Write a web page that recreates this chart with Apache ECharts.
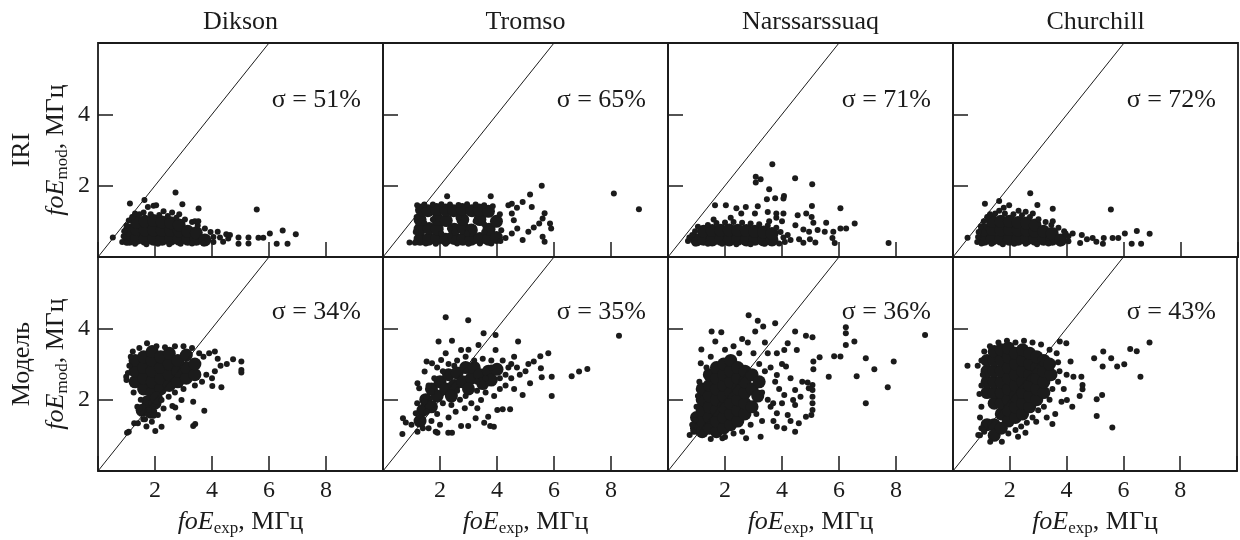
<!DOCTYPE html>
<html>
<head>
<meta charset="utf-8">
<title>foE: IRI / Модель</title>
<script src="https://cdn.jsdelivr.net/npm/echarts@6/dist/echarts.min.js"></script>
<style>
	html, body { margin: 0; padding: 0; background: #fff; }
	#chart { width: 1240px; height: 540px; }
</style>
</head>
<body>
<div id="chart"></div>
<script>
var stations = ['Dikson', 'Tromso', 'Narssarssuaq', 'Churchill'];
var rowNames = ['IRI', 'Модель'];
var sigmaIri = [51, 65, 71, 72];
var sigmaModel = [34, 35, 36, 43];
var xTickLabels = [2, 4, 6, 8];
var yTickLabels = [2, 4];
var identityLine = [0, 6];

// IRI row: dense part of each cloud (drawn with bigger dots) and single points
var iriDiksonCore = [[1.1,0.5],[1.1,0.75],[1.35,0.52],[1.35,0.78],[1.35,0.98],[1.65,0.5],[1.65,0.76],[1.65,1.0],[1.95,0.5],[1.95,0.76],[1.95,1.02],[2.25,0.5],[2.25,0.75],[2.25,0.98],[2.55,0.5],[2.55,0.74],[2.55,0.96],[2.85,0.5],[2.85,0.73],[2.85,0.9],[3.15,0.5],[3.15,0.72],[3.45,0.5],[3.45,0.68],[3.75,0.48]];
var iriDiksonDots = [[0.85,0.42],[0.9,0.58],[0.92,0.72],[1.0,0.88],[1.08,1.02],[1.2,1.12],[1.3,1.22],[1.45,1.2],[1.0,0.4],[1.3,0.37],[1.7,0.36],[2.1,0.37],[2.5,0.36],[2.9,0.37],[3.3,0.38],[3.7,0.38],[4.05,0.42],[4.05,0.56],[3.95,0.7],[3.75,0.8],[3.5,0.88],[3.3,0.98],[3.05,1.05],[2.75,1.1],[2.45,1.15],[2.15,1.18],[1.85,1.2],[1.6,1.25],[1.75,1.4],[1.95,1.44],[2.3,1.28],[2.6,1.25],[2.85,1.2],[3.4,1.0],[3.52,1.0],[2.72,1.81],[1.12,1.5],[1.63,1.6],[2.96,1.48],[3.53,1.36],[5.57,1.33],[0.52,0.55],[2.04,1.45],[4.28,0.55],[4.57,0.52],[4.63,0.62],[4.93,0.55],[4.93,0.37],[5.28,0.55],[5.28,0.38],[5.63,0.54],[5.8,0.54],[6.03,0.66],[6.48,0.74],[6.94,0.64],[6.27,0.37],[6.65,0.37],[4.2,0.71],[4.39,0.43],[4.5,0.64]];

var iriTromsoCore = [[1.3,0.5],[1.3,0.78],[1.3,1.05],[1.35,1.32],[1.6,0.5],[1.62,0.8],[1.58,1.3],[1.9,0.52],[1.9,0.78],[1.92,1.05],[1.88,1.33],[2.2,0.5],[2.22,1.02],[2.2,1.32],[2.5,0.52],[2.5,0.78],[2.48,1.3],[2.8,0.5],[2.82,0.8],[2.8,1.05],[2.78,1.33],[3.1,0.5],[3.1,0.76],[3.12,1.3],[3.4,0.52],[3.4,1.05],[3.38,1.32],[3.7,0.5],[3.72,0.78],[3.7,1.28],[3.98,0.55],[3.98,1.0]];
var iriTromsoDots = [[1.12,0.4],[1.15,0.7],[1.18,1.12],[1.2,1.45],[1.45,1.47],[1.75,1.47],[2.05,1.48],[2.35,1.47],[2.65,1.46],[2.95,1.48],[3.25,1.47],[3.55,1.45],[3.85,1.42],[1.5,0.38],[1.85,0.37],[2.2,0.37],[2.6,0.38],[3.0,0.37],[3.4,0.38],[3.8,0.38],[4.12,0.45],[4.15,0.75],[4.1,1.2],[1.75,1.05],[2.05,0.65],[2.35,0.8],[2.65,1.1],[2.95,0.65],[3.25,1.0],[3.55,0.7],[3.55,0.92],[2.35,0.6],[1.45,0.95],[0.93,0.41],[2.25,1.7],[3.78,1.7],[4.52,1.49],[4.9,1.54],[5.16,1.75],[5.57,2.0],[5.22,1.4],[5.67,1.23],[5.6,1.08],[5.48,0.94],[5.29,0.83],[5.1,0.71],[4.9,0.48],[5.86,0.94],[5.9,0.8],[5.6,0.57],[5.67,0.43],[4.71,0.8],[4.52,1.22],[4.59,1.03],[4.52,0.66],[4.3,0.53],[8.1,1.78],[8.98,1.34],[4.4,1.45],[4.7,1.38]];

var iriNarssarssuaqCore = [[1.0,0.48],[1.25,0.5],[1.25,0.72],[1.55,0.48],[1.55,0.74],[1.85,0.5],[1.85,0.75],[2.15,0.48],[2.15,0.76],[2.45,0.5],[2.45,0.75],[2.75,0.48],[2.75,0.74],[3.05,0.5],[3.05,0.72],[3.35,0.48],[3.35,0.7],[3.65,0.48],[3.65,0.66]];
var iriNarssarssuaqDots = [[0.7,0.45],[0.75,0.55],[0.85,0.62],[0.95,0.72],[1.05,0.85],[1.4,0.9],[1.7,0.95],[2.0,0.97],[2.3,0.98],[2.6,0.96],[2.9,0.94],[3.2,0.92],[3.5,0.88],[3.8,0.82],[3.95,0.7],[4.05,0.55],[4.1,0.42],[3.9,0.38],[3.4,0.37],[2.9,0.36],[2.4,0.36],[1.9,0.37],[1.4,0.37],[0.95,0.38],[4.2,0.62],[4.3,0.48],[4.0,1.0],[3.8,1.1],[3.55,1.0],[2.2,1.1],[1.6,1.05],[3.66,2.6],[3.08,2.25],[3.08,2.09],[3.25,2.18],[4.46,2.21],[5.06,2.04],[3.55,1.9],[3.47,1.62],[3.76,1.65],[4.07,1.71],[4.05,1.64],[1.65,1.45],[2.03,1.45],[2.4,1.37],[2.73,1.4],[3.15,1.42],[3.5,1.26],[3.8,1.22],[4.05,1.22],[5.05,1.43],[6.05,1.37],[4.55,1.17],[4.85,1.22],[5.04,1.12],[5.1,0.96],[5.55,0.96],[6.55,0.94],[6.05,0.8],[6.25,0.8],[5.8,0.71],[5.5,0.71],[5.25,0.76],[4.95,0.71],[4.75,0.77],[4.47,0.89],[5.77,0.53],[5.85,0.39],[5.17,0.41],[4.98,0.5],[7.74,0.39],[3.05,1.22],[2.57,1.22],[4.6,0.5],[4.75,0.4]];

var iriChurchillCore = [[1.1,0.5],[1.1,0.76],[1.38,0.5],[1.38,0.77],[1.38,1.0],[1.68,0.5],[1.68,0.76],[1.68,1.0],[1.98,0.5],[1.98,0.77],[1.98,1.0],[2.28,0.5],[2.28,0.76],[2.28,0.97],[2.58,0.5],[2.58,0.75],[2.58,0.95],[2.88,0.5],[2.88,0.72],[2.88,0.9],[3.18,0.5],[3.18,0.72],[3.48,0.5],[3.48,0.66],[3.78,0.48]];
var iriChurchillDots = [[0.85,0.42],[0.88,0.56],[0.9,0.7],[0.98,0.86],[1.08,1.0],[1.2,1.12],[1.3,1.2],[1.48,1.22],[1.0,0.38],[1.35,0.37],[1.75,0.36],[2.15,0.37],[2.55,0.37],[2.95,0.36],[3.35,0.38],[3.75,0.38],[4.05,0.44],[4.05,0.58],[3.9,0.72],[3.7,0.82],[3.45,0.9],[3.25,0.98],[3.0,1.06],[2.7,1.12],[2.42,1.17],[2.12,1.2],[1.82,1.22],[1.62,1.3],[1.78,1.38],[2.3,1.3],[2.55,1.27],[2.8,1.22],[3.5,1.0],[2.71,1.79],[1.12,1.49],[1.62,1.57],[2.96,1.46],[3.5,1.35],[5.54,1.33],[0.51,0.54],[1.97,1.45],[4.2,0.66],[4.52,0.62],[4.9,0.53],[5.03,0.43],[5.29,0.53],[5.26,0.37],[5.6,0.53],[5.8,0.53],[6.03,0.66],[6.45,0.73],[6.9,0.65],[6.27,0.37],[6.6,0.37],[4.46,0.39],[3.95,0.66],[4.7,0.5]];

// model row
var modelDiksonCore = [[1.3,2.5],[1.3,2.8],[1.3,3.1],[1.6,2.3],[1.6,2.6],[1.6,2.9],[1.6,3.2],[1.9,2.2],[1.9,2.5],[1.9,2.8],[1.9,3.1],[1.9,3.35],[2.2,2.3],[2.2,2.6],[2.2,2.9],[2.2,3.2],[2.5,2.4],[2.5,2.7],[2.5,3.0],[2.5,3.3],[2.8,2.5],[2.8,2.8],[2.8,3.1],[3.1,2.6],[3.1,2.9],[3.1,3.25],[3.4,2.7],[3.4,3.0],[1.75,1.95],[2.0,1.9],[1.55,1.7],[1.85,1.65],[2.05,2.05]];
var modelDiksonDots = [[1.0,2.55],[0.99,2.64],[1.05,2.75],[1.1,2.95],[1.15,3.2],[1.22,3.35],[1.72,3.58],[1.45,3.45],[2.05,3.5],[2.35,3.47],[2.7,3.5],[3.0,3.5],[3.3,3.45],[3.55,3.3],[3.7,3.2],[3.9,3.3],[4.1,3.35],[4.2,3.15],[4.3,2.95],[4.1,2.8],[3.8,2.7],[3.65,2.5],[3.4,2.4],[4.0,2.6],[4.33,2.35],[4.01,2.38],[4.74,3.13],[4.52,3.0],[5.03,3.07],[5.03,2.83],[5.03,2.76],[3.34,1.94],[3.73,1.69],[2.71,1.78],[2.83,1.5],[3.34,1.26],[3.41,1.32],[2.01,1.12],[2.23,1.24],[1.08,1.1],[1.02,1.07],[1.27,1.34],[1.4,1.34],[1.59,1.45],[1.89,1.38],[1.38,1.8],[1.46,1.76],[1.78,1.71],[2.1,1.57],[2.23,1.99],[2.48,2.08],[2.93,1.99],[2.61,1.82],[1.25,2.2],[1.5,2.0],[2.7,2.2],[3.0,2.3],[1.65,1.45],[1.7,1.25],[1.95,1.55],[2.3,1.75]];

var modelTromsoCore = [[1.4,1.7],[1.5,2.0],[1.7,2.3],[1.9,2.1],[2.0,2.5],[2.2,2.3],[2.3,2.7],[2.5,2.4],[2.6,2.75],[2.8,2.5],[2.9,2.9],[3.1,2.6],[3.2,2.9],[3.4,2.7],[3.5,2.45],[3.7,2.8],[3.8,2.55],[4.0,2.85],[3.0,2.3],[2.4,2.1],[1.7,1.8],[1.3,1.4]];
var modelTromsoDots = [[2.2,4.31],[2.99,4.23],[8.28,3.79],[1.95,3.63],[2.42,3.65],[3.53,3.86],[3.95,3.81],[4.74,3.63],[3.35,3.53],[2.74,3.39],[3.95,3.39],[5.52,3.22],[5.8,3.3],[5.29,3.07],[5.54,2.88],[5.57,2.63],[5.92,2.64],[5.92,2.1],[6.62,2.66],[6.88,2.79],[7.17,2.86],[5.16,2.46],[4.9,2.13],[0.7,1.48],[0.8,1.36],[0.68,1.04],[1.21,1.1],[1.4,1.2],[1.85,1.1],[1.91,1.07],[2.29,1.07],[2.42,1.07],[2.74,1.26],[2.99,1.26],[3.76,1.26],[3.89,1.24],[3.69,1.52],[4.01,1.71],[4.2,1.73],[4.46,1.73],[3.25,1.48],[3.31,1.76],[3.44,1.99],[2.55,1.66],[2.87,1.76],[1.53,1.66],[1.15,1.62],[1.46,1.94],[1.53,2.08],[1.72,2.22],[1.27,2.32],[1.21,2.46],[1.46,2.79],[1.53,3.07],[1.72,3.02],[2.04,3.11],[2.3,3.0],[2.6,3.1],[2.9,3.2],[3.2,3.1],[3.5,3.15],[3.8,3.1],[4.2,3.1],[4.5,3.0],[4.7,2.9],[4.8,2.7],[4.5,2.6],[4.3,2.4],[4.6,2.3],[4.1,2.3],[3.9,2.1],[3.6,2.2],[3.3,2.25],[2.7,2.0],[2.4,1.85],[2.1,1.9],[1.9,1.6],[1.7,1.4],[1.4,1.45],[1.2,1.9],[1.0,1.3],[2.6,2.25],[3.3,2.5],[3.6,2.6],[4.3,2.7],[4.4,2.9],[2.1,2.8],[2.5,2.95],[1.8,2.6],[1.6,2.4],[5.0,2.8],[5.1,3.0],[4.6,3.2],[3.0,3.4],[2.2,3.3],[1.9,2.9],[3.8,2.9],[4.1,2.6],[2.0,1.3],[1.6,1.2],[3.1,1.9],[2.9,2.1],[2.3,1.5],[3.55,1.35]];

var modelNarssarssuaqCore = [[1.0,1.2],[1.0,1.5],[1.2,1.1],[1.2,1.4],[1.2,1.7],[1.2,2.0],[1.2,2.3],[1.45,1.2],[1.45,1.5],[1.45,1.8],[1.45,2.1],[1.45,2.4],[1.45,2.7],[1.7,1.1],[1.7,1.4],[1.7,1.7],[1.7,2.0],[1.7,2.3],[1.7,2.6],[1.7,2.9],[1.95,1.2],[1.95,1.5],[1.95,1.8],[1.95,2.1],[1.95,2.4],[1.95,2.7],[1.95,3.0],[2.2,1.3],[2.2,1.6],[2.2,1.9],[2.2,2.2],[2.2,2.5],[2.2,2.8],[2.2,3.1],[2.45,1.4],[2.45,1.7],[2.45,2.0],[2.45,2.3],[2.45,2.6],[2.45,2.9],[2.7,1.6],[2.7,1.9],[2.7,2.2],[2.7,2.5],[2.7,2.8],[2.95,1.8],[2.95,2.3],[2.95,2.7],[3.15,2.1],[3.2,2.5]];
var modelNarssarssuaqDots = [[0.76,1.01],[0.89,1.1],[0.96,1.43],[0.85,1.3],[1.0,1.8],[1.05,2.1],[1.1,2.5],[1.15,3.02],[1.17,3.41],[1.35,2.9],[1.53,3.91],[1.87,3.89],[1.66,3.63],[1.5,3.2],[2.0,3.4],[2.3,3.5],[2.5,3.3],[2.83,4.37],[3.15,4.21],[3.34,4.05],[3.76,4.14],[3.06,3.91],[2.8,3.6],[3.0,3.3],[3.2,3.0],[3.4,2.8],[3.5,3.3],[3.3,2.2],[3.5,2.0],[3.1,1.6],[3.3,1.4],[2.9,1.3],[2.6,1.1],[2.3,1.05],[2.0,0.95],[1.5,0.9],[1.91,0.92],[2.74,0.92],[3.25,0.96],[3.82,1.24],[4.08,1.2],[4.59,1.34],[4.84,1.52],[5.03,1.57],[4.46,1.1],[4.46,3.91],[4.84,3.79],[5.07,3.75],[4.08,3.39],[4.52,3.39],[4.2,3.58],[3.82,3.3],[4.14,2.93],[3.82,2.69],[3.76,2.5],[4.08,2.13],[4.39,1.99],[3.82,1.62],[4.2,1.57],[4.46,1.85],[3.69,1.9],[4.46,2.27],[4.65,2.08],[5.07,2.41],[5.07,2.27],[5.07,2.08],[5.07,1.9],[5.07,1.71],[4.9,2.48],[4.71,2.5],[4.94,2.32],[5.1,3.07],[5.1,2.85],[5.32,3.19],[5.83,3.22],[6.05,3.21],[5.64,2.64],[6.24,4.03],[6.24,3.86],[6.24,3.53],[6.54,3.63],[9.02,3.81],[6.62,2.66],[6.94,3.16],[7.24,2.85],[7.92,3.07],[7.71,2.35],[6.94,1.9],[3.6,2.9],[3.9,2.3],[4.0,1.9],[3.6,1.8],[4.3,2.6],[4.0,3.0],[3.4,3.6],[2.6,3.7],[3.7,1.4],[4.3,1.4]];

var modelChurchillCore = [[1.2,2.2],[1.2,2.5],[1.2,2.8],[1.2,3.1],[1.45,1.9],[1.45,2.2],[1.45,2.5],[1.45,2.8],[1.45,3.1],[1.45,3.35],[1.7,1.6],[1.7,1.9],[1.7,2.2],[1.7,2.5],[1.7,2.8],[1.7,3.1],[1.7,3.4],[1.95,1.4],[1.95,1.7],[1.95,2.0],[1.95,2.3],[1.95,2.6],[1.95,2.9],[1.95,3.2],[1.95,3.45],[2.2,1.5],[2.2,1.8],[2.2,2.1],[2.2,2.4],[2.2,2.7],[2.2,3.0],[2.2,3.3],[2.45,1.6],[2.45,1.9],[2.45,2.2],[2.45,2.5],[2.45,2.8],[2.45,3.1],[2.45,3.4],[2.7,1.8],[2.7,2.1],[2.7,2.4],[2.7,2.7],[2.7,3.0],[2.7,3.3],[2.95,2.0],[2.95,2.3],[2.95,2.6],[2.95,2.9],[2.95,3.2],[3.2,2.2],[3.2,2.5],[3.2,2.8],[3.2,3.1],[3.45,2.7],[3.4,3.0],[1.2,1.3],[1.45,1.3],[1.45,1.0],[1.7,1.2]];
var modelChurchillDots = [[0.51,2.95],[0.87,2.95],[0.93,2.16],[1.0,2.4],[1.05,2.7],[1.0,3.1],[1.1,3.35],[1.3,3.5],[1.6,3.6],[1.9,3.65],[2.2,3.6],[2.5,3.65],[2.8,3.6],[3.1,3.55],[3.4,3.4],[3.65,3.3],[3.76,3.63],[3.99,3.58],[3.7,3.05],[3.75,2.8],[3.7,2.5],[3.5,2.3],[3.4,2.0],[3.2,1.8],[3.0,1.7],[2.8,1.5],[2.6,1.35],[2.4,1.25],[2.2,1.15],[1.95,1.05],[1.1,1.1],[1.0,1.2],[0.95,1.0],[4.14,3.07],[4.24,2.64],[4.52,2.64],[4.56,2.41],[4.56,2.29],[4.46,2.1],[4.2,1.8],[4.01,1.99],[3.82,1.94],[3.9,2.3],[4.0,2.7],[5.06,2.01],[5.25,2.13],[5.06,1.54],[5.61,1.22],[4.97,3.16],[5.29,3.35],[5.57,3.16],[5.27,2.93],[5.78,2.93],[6.03,2.99],[6.24,3.42],[6.47,3.36],[6.92,3.6],[6.6,2.64],[3.5,1.32],[2.93,1.38],[2.55,1.07],[2.29,0.96],[1.72,0.82],[1.31,0.82],[0.89,1.01],[1.08,1.15],[3.6,1.6],[3.3,1.5],[1.0,1.8],[0.95,1.5]];

var FONT = 'Liberation Serif';
var INK = '#1b1b1b';
var panelLeft = [98, 383, 668, 953];
var panelTop = [43, 257];
var panelW = 285;
var panelH = 214;

var panels = [
	[[iriDiksonCore, iriDiksonDots], [iriTromsoCore, iriTromsoDots], [iriNarssarssuaqCore, iriNarssarssuaqDots], [iriChurchillCore, iriChurchillDots]],
	[[modelDiksonCore, modelDiksonDots], [modelTromsoCore, modelTromsoDots], [modelNarssarssuaqCore, modelNarssarssuaqDots], [modelChurchillCore, modelChurchillDots]]
];
var sigmas = [sigmaIri, sigmaModel];

var nameRich = {
	a : {fontFamily : FONT, fontSize : 26, lineHeight : 38, color : INK},
	i : {fontFamily : FONT, fontSize : 26, lineHeight : 30, fontStyle : 'italic', color : INK},
	s : {fontFamily : FONT, fontSize : 17, lineHeight : 12, verticalAlign : 'bottom', color : INK},
	n : {fontFamily : FONT, fontSize : 26, lineHeight : 30, color : INK}
};

function tickFormatter(list) {
	return function(v) {
		return list.indexOf(v) == -1 ? '' : String(v);
	};
}

var grids = [], xAxes = [], yAxes = [], series = [], graphics = [];

for (var r = 0; r < 2; r++) {
	for (var c = 0; c < 4; c++) {
		var g = grids.length;
		grids.push({
			left : panelLeft[c], top : panelTop[r], width : panelW, height : panelH,
			show : true, borderColor : INK, borderWidth : 1.8, backgroundColor : 'transparent'
		});

		xAxes.push({
			gridIndex : g, type : 'value', min : 0, max : 10, interval : 2,
			axisLine : {show : false},
			axisTick : {show : true, inside : true, length : 15, lineStyle : {color : INK, width : 1.5}},
			splitLine : {show : false},
			axisLabel : {show : r == 1, margin : 8, fontFamily : FONT, fontSize : 24, color : INK, formatter : tickFormatter(xTickLabels)},
			name : r == 1 ? '{i|foE}{s|exp}{n|, МГц}' : '',
			nameLocation : 'middle', nameGap : 36,
			nameTextStyle : {rich : nameRich}
		});

		yAxes.push({
			gridIndex : g, type : 'value', min : 0, max : 6, interval : 2,
			axisLine : {show : false},
			axisTick : {show : true, inside : true, length : 15, lineStyle : {color : INK, width : 1.5}},
			splitLine : {show : false},
			axisLabel : {show : c == 0, margin : 8, fontFamily : FONT, fontSize : 24, color : INK, formatter : tickFormatter(yTickLabels)},
			name : c == 0 ? '{a|' + rowNames[r] + '}\n{i|foE}{s|mod}{n|, МГц}' : '',
			nameLocation : 'middle', nameRotate : 90, nameGap : 27,
			nameTextStyle : {rich : nameRich}
		});

		series.push({
			type : 'line', xAxisIndex : g, yAxisIndex : g,
			data : identityLine.map(function(v) { return [v, v]; }),
			showSymbol : false, silent : true,
			lineStyle : {color : INK, width : 1}
		});
		series.push({
			type : 'scatter', xAxisIndex : g, yAxisIndex : g,
			data : panels[r][c][0], symbolSize : 13, silent : true,
			itemStyle : {color : INK, opacity : 1}
		});
		series.push({
			type : 'scatter', xAxisIndex : g, yAxisIndex : g,
			data : panels[r][c][1], symbolSize : 6, silent : true,
			itemStyle : {color : INK, opacity : 1}
		});

		graphics.push({
			type : 'text', x : panelLeft[c] + panelW - 22, y : panelTop[r] + (r == 0 ? 57 : 55),
			style : {text : '\u03c3 = ' + sigmas[r][c] + '%', font : '26px "' + FONT + '"', fill : INK, textAlign : 'right', textVerticalAlign : 'middle'}
		});
	}
}

for (var k = 0; k < stations.length; k++) {
	graphics.push({
		type : 'text', x : panelLeft[k] + panelW / 2, y : 22,
		style : {text : stations[k], font : '26px "' + FONT + '"', fill : INK, textAlign : 'center', textVerticalAlign : 'middle'}
	});
}

var myChart = echarts.init(document.getElementById('chart'));
myChart.setOption({
	animation : false,
	backgroundColor : '#fff',
	grid : grids,
	xAxis : xAxes,
	yAxis : yAxes,
	series : series,
	graphic : {elements : graphics}
});
</script>
</body>
</html>
